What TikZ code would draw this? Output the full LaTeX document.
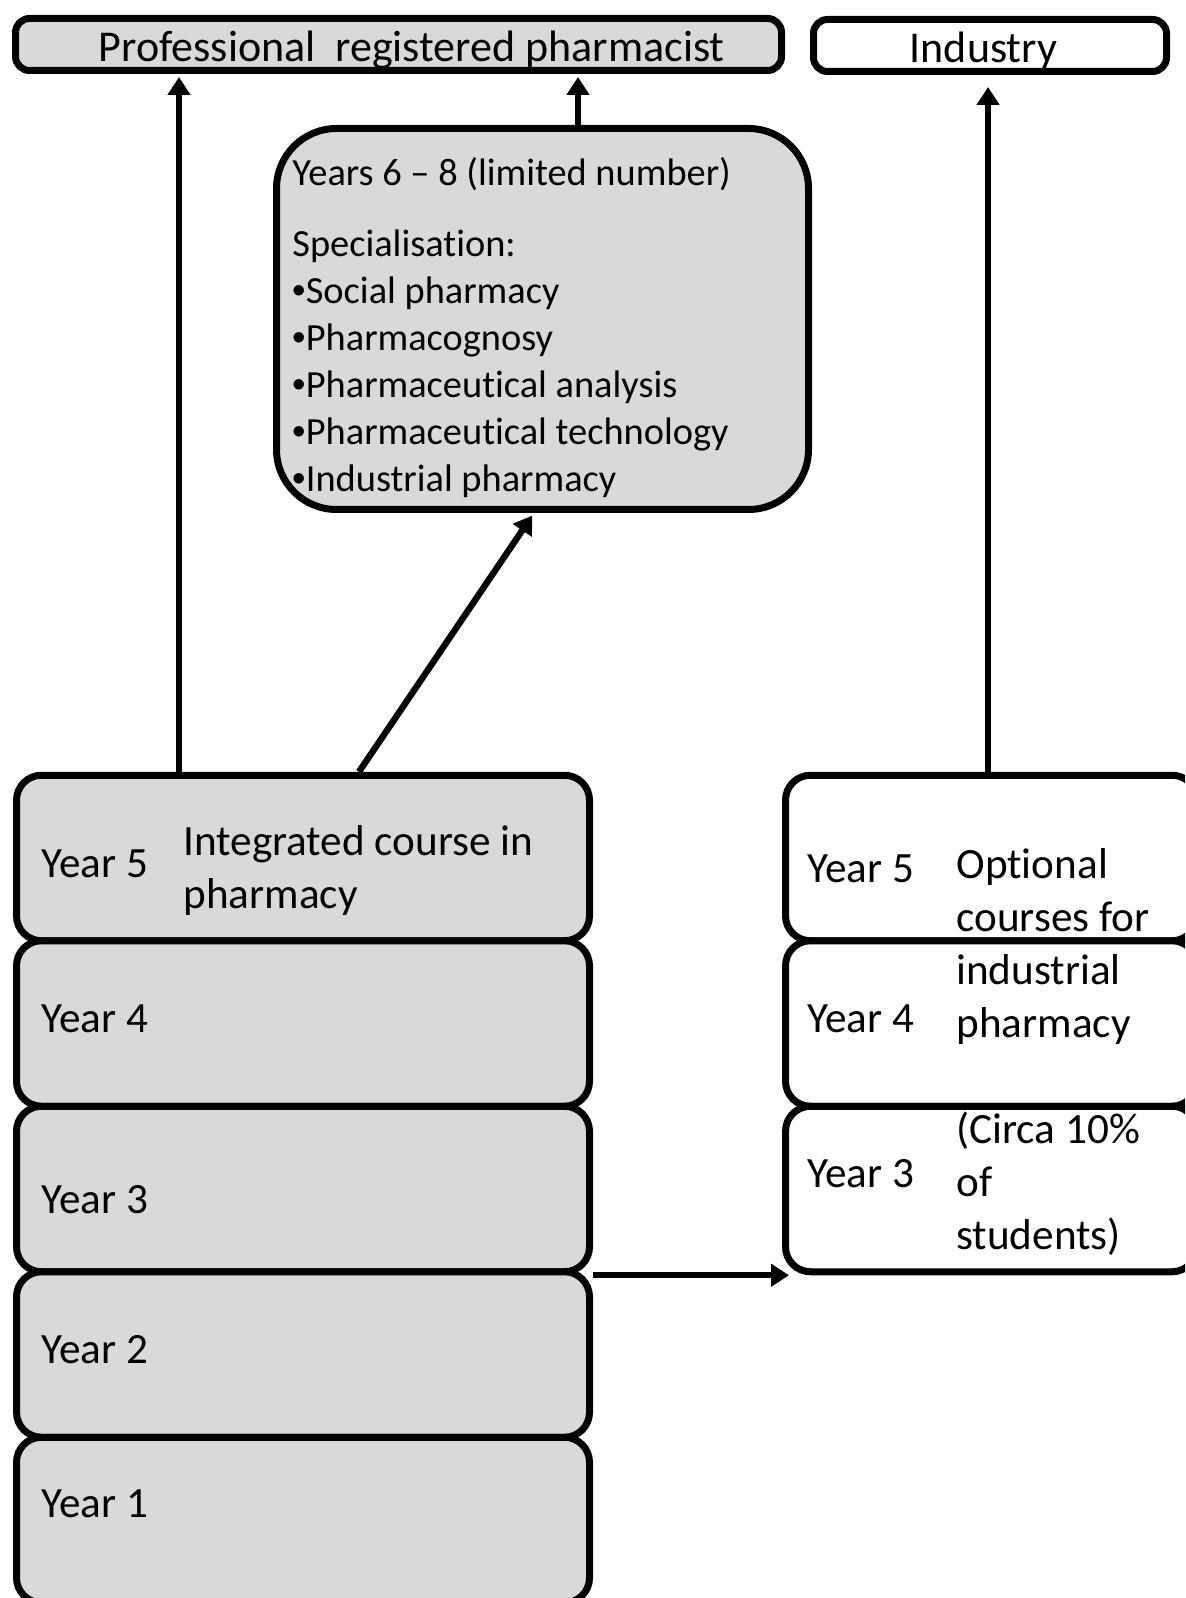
\documentclass[tikz,border=0pt]{standalone}
\usepackage{fontspec}
\setmainfont[Ligatures=NoCommon]{Carlito}
\newfontfamily\bltfont{Liberation Sans}
\usetikzlibrary{arrows.meta, positioning}
\definecolor{boxgray}{HTML}{D9D9D9}
\newcommand{\blt}{{\bltfont •}}

\begin{document}
\begin{tikzpicture}[
  x=0.5pt, y=-0.5pt,
  box/.style={rectangle, draw=black, line width=3.5pt, inner sep=0pt},
  topbox/.style={box, rounded corners=7pt, minimum height=26pt, text height=17.5pt, text depth=0pt,
                 font=\fontsize{22}{26.5}\selectfont},
  yearbox/.style={box, rounded corners=12.5pt, minimum width=286.5pt, minimum height=82.75pt, fill=boxgray},
  sidebox/.style={box, rounded corners=12.5pt, minimum width=205.75pt, minimum height=82.75pt, fill=white},
  lbl/.style={inner sep=0pt, anchor=west, align=left, font=\fontsize{21.6}{26.5}\selectfont},
  arrow/.style={-{Triangle[length=9pt,width=11pt]}, line width=3.2pt, shorten >=1.5pt}
]
\useasboundingbox (0,0) rectangle (1185,1598);
\clip (0,0) rectangle (1185,1598);

\node[topbox, fill=boxgray, minimum width=383pt] (prof) at (398.5,44.5) {\hspace*{13.2pt}Professional\ \ registered pharmacist};
\node[topbox, fill=white, minimum width=176.5pt] (ind) at (990,45.5) {Industry\hspace*{6.6pt}};

\node[box, fill=boxgray, rounded corners=30pt, minimum width=266pt, minimum height=190.5pt] (spec) at (542.5,319) {};
\node[inner sep=0pt, anchor=north west, align=left, font=\fontsize{19.2}{23.5}\selectfont] (spectext) at (292,157)
  {Years 6 – 8 (limited number)\\[12pt]
   Specialisation:\\
   \blt Social pharmacy\\
   \blt Pharmacognosy\\
   \blt Pharmaceutical analysis\\
   \blt Pharmaceutical technology\\
   \blt Industrial pharmacy};

% integrated course, years 1-5
\foreach \n/\yc in {5/858, 4/1023.5, 3/1189, 2/1354.5, 1/1520}
  \node[yearbox] (y\n) at (303,\yc) {};
\foreach \n/\ty in {5/864, 4/1019, 3/1200, 2/1350, 1/1504}
  \node[lbl] (ly\n) at (41,\ty) {Year \n};
\node[lbl] (integ) at (183,870) {Integrated course in\\pharmacy};

% optional courses, years 3-5
\foreach \n/\yc in {5/858, 4/1023.5, 3/1189}
  \node[sidebox] (ry\n) at (991.25,\yc) {};
\foreach \n/\ty in {5/869, 4/1019, 3/1174}
  \node[lbl] (rly\n) at (807,\ty) {Year \n};
\node[lbl] (opt) at (956,1052) {Optional\\courses for\\industrial\\pharmacy\\[26.5pt](Circa 10\%\\of\\students)};

\draw[arrow] ([xshift=-62pt]y5.north) -- ([xshift=-62pt]y5.north |- prof.south);
\draw[arrow] ([xshift=17.75pt]spec.north) -- ([xshift=17.75pt]spec.north |- prof.south);
\draw[arrow] ([xshift=28pt]y5.north) -- ([xshift=-4.25pt]spec.south);
\draw[arrow, shorten >=6pt] ([xshift=-1.6pt]ry5.north) -- ([xshift=-1.6pt]ry5.north |- ind.south);
\draw[arrow] (y3.south east) -- ([xshift=5pt]ry3.south west);

\end{tikzpicture}
\end{document}
